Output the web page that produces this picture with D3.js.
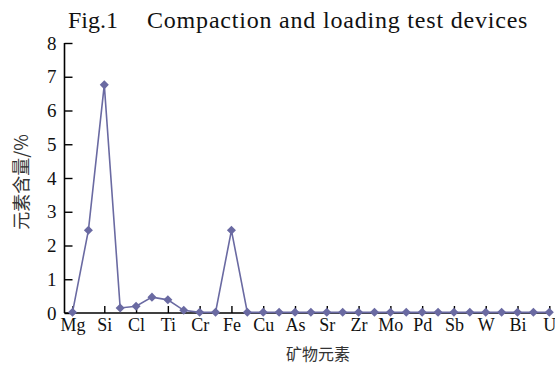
<!DOCTYPE html>
<html>
<head>
<meta charset="utf-8">
<script src="https://cdn.jsdelivr.net/npm/d3@7"></script>
<style>
  html, body { margin: 0; padding: 0; background: #fff; }
  svg { display: block; }
</style>
</head>
<body>
<svg id="chart" width="555" height="367"></svg>
<script>
// Element labels shown under every second sample position
const tickLabels = ["Mg", "Si", "Cl", "Ti", "Cr", "Fe", "Cu", "As", "Sr", "Zr", "Mo", "Pd", "Sb", "W", "Bi", "U"];
// Element content (%) at each of the 31 sample positions
const values = [
  0.02, 2.45, 6.76, 0.15, 0.20, 0.47, 0.39, 0.08, 0.02, 0.02,
  2.45, 0.02, 0.02, 0.02, 0.02, 0.02, 0.02, 0.02, 0.02, 0.02,
  0.02, 0.02, 0.02, 0.02, 0.02, 0.02, 0.02, 0.02, 0.02, 0.02, 0.02
];
const yTicks = [0, 1, 2, 3, 4, 5, 6, 7, 8];

const serif = "'Liberation Serif', 'Times New Roman', serif";
const cjk = "'Noto Sans CJK SC', sans-serif";
const lineColor = "#6a6aa2";

const svg = d3.select("#chart");
const axisLeftX = 64.5, axisRightX = 552, plotTop = 43, plotBottom = 313;

const x = d3.scalePoint()
  .domain(d3.range(values.length))
  .range([72.5, 549.3]);

const y = d3.scaleLinear()
  .domain([0, 8])
  .range([plotBottom, plotTop]);

// Title
const title = svg.append("text")
  .attr("y", 28)
  .attr("font-family", serif)
  .attr("font-size", 24)
  .attr("fill", "#111");
title.append("tspan").attr("x", 68).text("Fig.1");
title.append("tspan").attr("x", 147).attr("letter-spacing", 0.8)
  .text("Compaction and loading test devices");

// Y axis
const yAxis = d3.axisLeft(y)
  .tickValues(yTicks)
  .tickFormat(d3.format("d"))
  .tickSizeInner(-8)
  .tickSizeOuter(0)
  .tickPadding(8);

const gy = svg.append("g")
  .attr("transform", `translate(${axisLeftX},0)`)
  .call(yAxis);
gy.select(".domain").remove();
gy.selectAll(".tick line").attr("stroke", "#000").attr("stroke-width", 1.4);
gy.selectAll(".tick text")
  .attr("font-family", serif)
  .attr("font-size", 19)
  .attr("fill", "#111");

// X axis: ticks point up into the plot at labelled positions
const xAxis = d3.axisBottom(x)
  .tickValues(d3.range(0, values.length, 2))
  .tickFormat(i => tickLabels[i / 2])
  .tickSizeInner(-7)
  .tickSizeOuter(0)
  .tickPadding(5);

const gx = svg.append("g")
  .attr("transform", `translate(0,${plotBottom})`)
  .call(xAxis);
gx.select(".domain").remove();
gx.selectAll(".tick line").attr("stroke", "#000").attr("stroke-width", 1.4);
gx.selectAll(".tick text")
  .attr("font-family", serif)
  .attr("font-size", 18)
  .attr("fill", "#111");

// Axis lines
svg.append("line")
  .attr("x1", axisLeftX).attr("x2", axisLeftX)
  .attr("y1", plotTop).attr("y2", plotBottom)
  .attr("stroke", "#000").attr("stroke-width", 1.6);
svg.append("line")
  .attr("x1", axisLeftX).attr("x2", axisRightX)
  .attr("y1", plotBottom).attr("y2", plotBottom)
  .attr("stroke", "#000").attr("stroke-width", 1.6);

// Series line
svg.append("path")
  .datum(values)
  .attr("fill", "none")
  .attr("stroke", lineColor)
  .attr("stroke-width", 1.6)
  .attr("d", d3.line().x((d, i) => x(i)).y(d => y(d)));

// Diamond markers
svg.append("g")
  .selectAll("path")
  .data(values)
  .join("path")
  .attr("transform", (d, i) => `translate(${x(i)},${y(d)}) rotate(45)`)
  .attr("d", "M-3.2,-3.2H3.2V3.2H-3.2Z")
  .attr("fill", lineColor);

// Axis titles
svg.append("text")
  .attr("transform", "translate(28,182) rotate(-90)")
  .attr("text-anchor", "middle")
  .attr("font-family", cjk)
  .attr("font-size", 18)
  .attr("fill", "#333")
  .text("元素含量/%");

svg.append("text")
  .attr("x", 318)
  .attr("y", 360)
  .attr("text-anchor", "middle")
  .attr("font-family", cjk)
  .attr("font-size", 16)
  .attr("fill", "#333")
  .text("矿物元素");
</script>
</body>
</html>
